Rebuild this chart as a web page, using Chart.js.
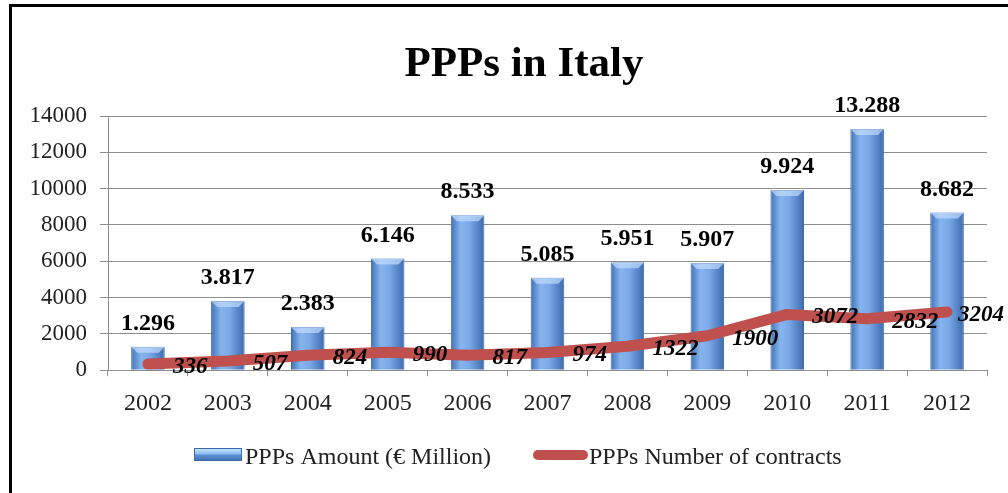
<!DOCTYPE html>
<html>
<head>
<meta charset="utf-8">
<script src="https://cdn.jsdelivr.net/npm/chart.js@4"></script>
<style>
    html, body { margin: 0; padding: 0; background: #fff; }
    #wrap { position: relative; width: 1008px; height: 493px; overflow: hidden; }
    #frame { position: absolute; left: 9px; top: 4px; width: 1200px; height: 700px;
             border-left: 3px solid #000; border-top: 3px solid #000; }
    #chart { position: absolute; left: 0; top: 0; }
</style>
</head>
<body>
<div id="wrap">
    <div id="frame"></div>
    <canvas id="chart" width="1008" height="493"></canvas>
</div>
<script>
// ====================================
// DATOS DEL GRAFICO
// ====================================
const anni = ['2002', '2003', '2004', '2005', '2006', '2007', '2008', '2009', '2010', '2011', '2012'];
const importoPPP = [1296, 3817, 2383, 6146, 8533, 5085, 5951, 5907, 9924, 13288, 8682];
const numeroContratti = [336, 507, 824, 990, 817, 974, 1322, 1900, 3072, 2832, 3204];
const etichetteImporto = ['1.296', '3.817', '2.383', '6.146', '8.533', '5.085', '5.951', '5.907', '9.924', '13.288', '8.682'];
const serieNomi = ['PPPs Amount (€ Million)', 'PPPs Number of contracts'];
const titolo = 'PPPs in Italy';

const SERIF = '"Liberation Serif", "Times New Roman", serif';
const GRID = '#8e8e8e';
const ROSSO = '#c0504d';

// Gradiente orizzontale per ogni barra
function barGradient(context) {
    const chart = context.chart;
    if (!chart.chartArea || !chart.scales.x) return '#5b8fd6';
    const x = chart.scales.x.getPixelForValue(context.dataIndex);
    const half = 17;
    const g = chart.ctx.createLinearGradient(x - half, 0, x + half, 0);
    g.addColorStop(0, '#3f70b4');
    g.addColorStop(0.3, '#86b4ee');
    g.addColorStop(0.55, '#7aa9e8');
    g.addColorStop(1, '#3b6aac');
    return g;
}

// Titolo, bisello, etichette dei dati e legenda
const etichettePlugin = {
    id: 'etichette',
    afterDatasetDraw(chart, args) {
        if (args.index !== 0) return;
        const ctx = chart.ctx;
        ctx.save();
        args.meta.data.forEach(bar => {
            const l = bar.x - bar.width / 2, r = bar.x + bar.width / 2, t = bar.y;
            ctx.beginPath();
            ctx.moveTo(l, t);
            ctx.lineTo(r, t);
            ctx.lineTo(r - 6, t + 6);
            ctx.lineTo(l + 6, t + 6);
            ctx.closePath();
            ctx.fillStyle = 'rgba(200,225,255,0.65)';
            ctx.fill();
        });
        ctx.restore();
    },
    afterDatasetsDraw(chart) {
        const ctx = chart.ctx;
        ctx.save();

        // titolo
        ctx.fillStyle = '#000';
        ctx.font = 'bold 43px ' + SERIF;
        ctx.textAlign = 'center';
        ctx.textBaseline = 'alphabetic';
        ctx.fillText(titolo, 524, 76);

        // etichette barre
        ctx.textBaseline = 'middle';
        const barMeta = chart.getDatasetMeta(0);
        ctx.font = 'bold 24px ' + SERIF;
        barMeta.data.forEach((bar, i) => {
            ctx.fillText(etichetteImporto[i], bar.x, bar.y - 23);
        });

        // etichette linea
        const lineMeta = chart.getDatasetMeta(1);
        ctx.font = 'italic bold 23px ' + SERIF;
        ctx.textAlign = 'left';
        lineMeta.data.forEach((pt, i) => {
            const txt = String(numeroContratti[i]);
            const w = ctx.measureText(txt).width;
            const x = Math.min(pt.x + 25, 1004 - w);
            ctx.fillText(txt, x, pt.y + 3);
        });

        // legenda
        const g = ctx.createLinearGradient(0, 448, 0, 461);
        g.addColorStop(0, '#cfe8ff');
        g.addColorStop(0.45, '#8fbdf2');
        g.addColorStop(0.55, '#5b8fd4');
        g.addColorStop(1, '#3d6fb3');
        ctx.fillStyle = g;
        ctx.fillRect(194, 448, 48, 13);
        ctx.strokeStyle = '#3c6aa8';
        ctx.lineWidth = 1;
        ctx.strokeRect(194.5, 448.5, 47, 12);

        ctx.strokeStyle = ROSSO;
        ctx.lineWidth = 10;
        ctx.lineCap = 'round';
        ctx.beginPath();
        ctx.moveTo(538, 455);
        ctx.lineTo(583, 455);
        ctx.stroke();

        ctx.fillStyle = '#222';
        ctx.font = '24px ' + SERIF;
        ctx.fillText(serieNomi[0], 245, 458);
        ctx.fillText(serieNomi[1], 589, 458);
        ctx.restore();
    }
};

const ctx = document.getElementById('chart').getContext('2d');
new Chart(ctx, {
    data: {
        labels: anni,
        datasets: [
            {
                type: 'bar',
                label: serieNomi[0],
                data: importoPPP,
                backgroundColor: barGradient,
                borderColor: '#3c6aa8',
                borderWidth: 1,
                barPercentage: 0.42,
                categoryPercentage: 1,
                order: 2
            },
            {
                type: 'line',
                label: serieNomi[1],
                data: numeroContratti,
                borderColor: ROSSO,
                borderWidth: 11,
                borderCapStyle: 'round',
                borderJoinStyle: 'round',
                pointRadius: 0,
                tension: 0,
                fill: false,
                order: 1
            }
        ]
    },
    options: {
        responsive: false,
        animation: false,
        layout: { padding: { top: 116, right: 21, bottom: 62, left: 0 } },
        scales: {
            x: {
                offset: true,
                grid: { offset: true, drawOnChartArea: false, color: GRID, tickLength: 6 },
                border: { color: GRID },
                ticks: { color: '#222', padding: 13, font: { family: SERIF, size: 24 } }
            },
            y: {
                min: 0,
                max: 14000,
                afterFit(scale) { scale.width = 108; },
                grid: { color: GRID, tickLength: 8 },
                border: { color: GRID },
                ticks: {
                    stepSize: 2000,
                    color: '#222',
                    padding: 13,
                    font: { family: SERIF, size: 23 },
                    callback: v => String(v)
                }
            }
        },
        plugins: {
            legend: { display: false },
            tooltip: { enabled: false }
        }
    },
    plugins: [etichettePlugin]
});
</script>
</body>
</html>
